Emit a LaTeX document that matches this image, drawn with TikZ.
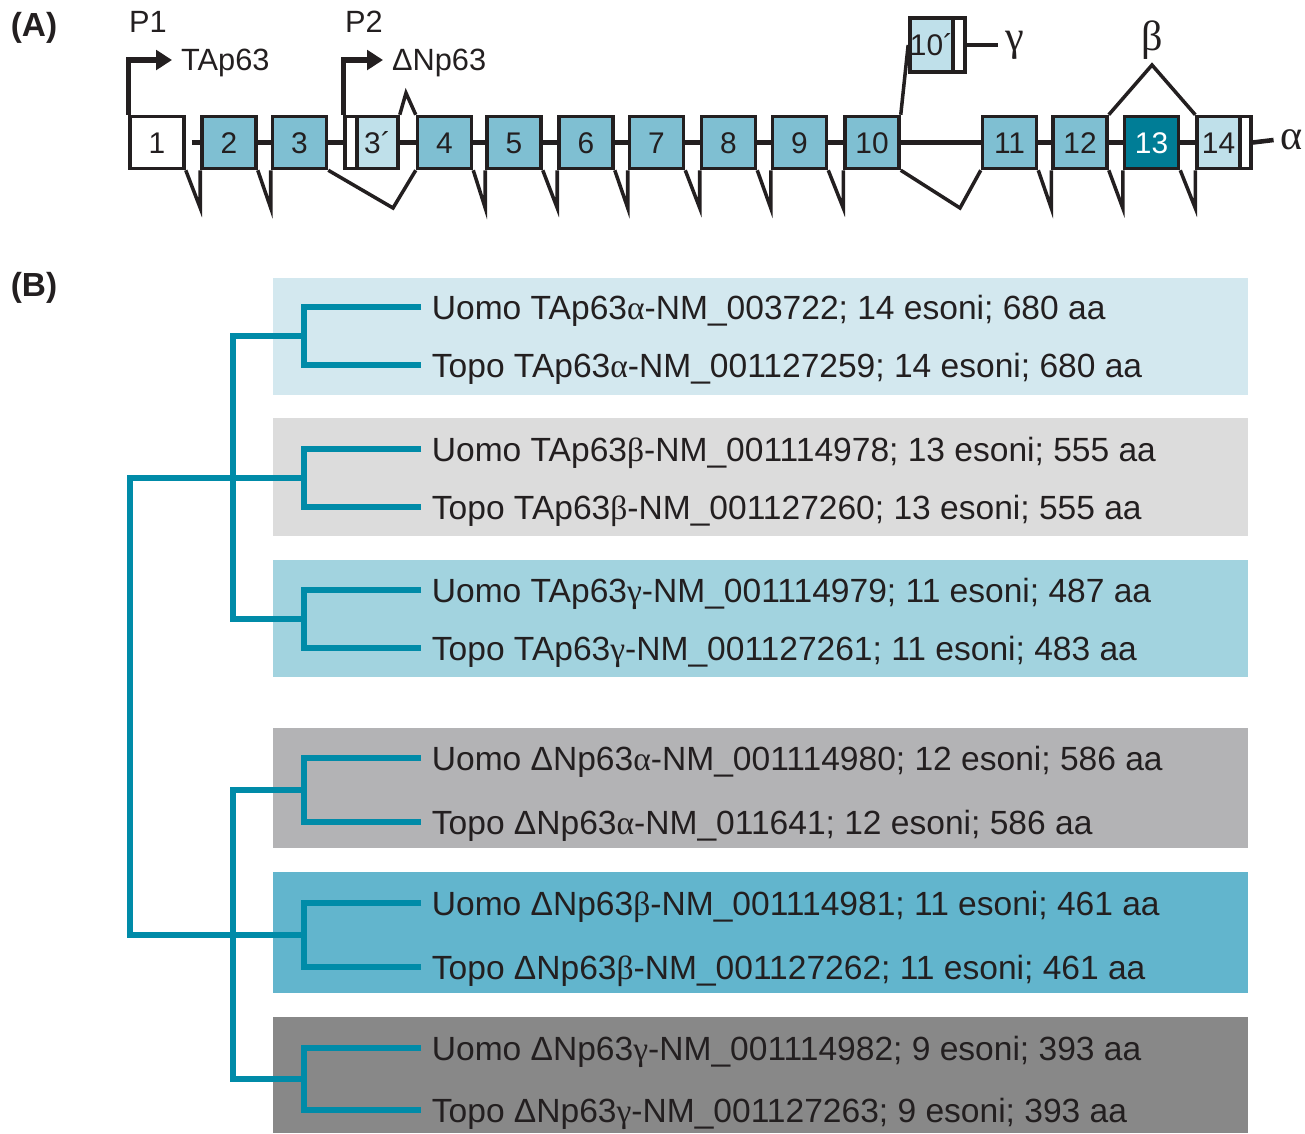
\documentclass[tikz,border=0pt]{standalone}
\usepackage{fontspec}
\setmainfont{Liberation Sans}
\newfontfamily\grk{Liberation Serif}
\usetikzlibrary{arrows.meta,calc,positioning}
\definecolor{Ink}{HTML}{231F20}
\definecolor{ExonMid}{HTML}{7FBFD2}
\definecolor{ExonPale}{HTML}{BFE0EA}
\definecolor{ExonDeep}{HTML}{007D96}
\definecolor{Branch}{HTML}{008BA8}
\definecolor{RowA}{HTML}{D3E8EF}
\definecolor{RowB}{HTML}{DCDCDC}
\definecolor{RowC}{HTML}{A2D3DF}
\definecolor{RowD}{HTML}{B3B3B5}
\definecolor{RowE}{HTML}{62B5CD}
\definecolor{RowF}{HTML}{888888}
\newcommand{\ga}{{\grk α}}
\newcommand{\gb}{{\grk β}}
\newcommand{\gc}{{\grk γ}}

\begin{document}
\begin{tikzpicture}[x=0.02cm,y=-0.02cm,
  exon/.style={draw=Ink,line width=2pt,fill=ExonMid,minimum width=1.08cm,minimum height=1.04cm,inner sep=0pt,font=\fontsize{17}{17}\selectfont,text=Ink,text height=12pt,text depth=0pt},
  pale/.style={exon,fill=ExonPale,minimum width=0.84cm},
  tail/.style={exon,fill=white,minimum width=0.23cm},
  intron/.style={draw=Ink,line width=2.6pt},
  splice/.style={draw=Ink,line width=2pt},
  prom/.style={draw=Ink,line width=3pt,-{Triangle[length=9pt,width=11pt]}},
  lab/.style={font=\fontsize{17.5}{18}\selectfont,text=Ink,inner sep=5pt,text height=12.5pt,text depth=0pt},
  greek/.style={font=\grk\fontsize{24}{24}\selectfont,text=Ink,inner sep=4pt},
  panel/.style={font=\bfseries\fontsize{19}{19}\selectfont,text=Ink},
  iso/.style={anchor=west,font=\fontsize{19.1}{20}\selectfont,text=Ink,inner sep=6pt,text height=14pt,text depth=0pt},
  tree/.style={draw=Branch,line width=3.3pt}
]
\useasboundingbox (0,0) rectangle (1305,1133);

% (A) gene structure
\node[panel] (pa) at (34,28) {(A)};
\node[exon,fill=white] (e1) at (157,142.5) {1};
\foreach \n/\x in {2/229,3/299.5,4/444.5,5/514,6/586,7/656.5,8/728.5,9/799.5,10/872,11/1009.5,12/1080}
  \node[exon] (e\n) at (\x,142.5) {\n};
\node[exon,fill=ExonDeep,text=white] (e13) at (1151.5,142.5) {13};
\node[tail] (u3) at (351,142.5) {};
\node[pale,minimum width=0.82cm] (e3p) at (377.5,142.5) {3´};
\node[pale,minimum width=0.86cm] (e14) at (1218.5,142.5) {14};
\node[tail,minimum width=0.22cm] (u14) at (1245.5,142.5) {};
\node[pale,minimum width=0.86cm,minimum height=1.08cm] (e10p) at (931.5,45) {10´};
\node[tail,minimum height=1.08cm] (u10p) at (959,45) {};

\draw[intron] ($(e1.east)+(6,0)$) -- (e2.west);
\draw[intron] (e2.east) -- (e3.west);
\draw[intron] (e3.east) -- (u3.west);
\draw[intron] (e3p.east) -- (e4.west);
\foreach \a/\b in {4/5,5/6,6/7,7/8,8/9,9/10,10/11,11/12,12/13,13/14}
  \draw[intron] (e\a.east) -- (e\b.west);
\node[greek] (alpha) at (1292,140) {α};
\draw[intron] (u14.east) -- (alpha.west);
\node[greek] (gamma) at (1015,45) {γ};
\draw[intron] (u10p.east) -- (gamma.west);

% splicing
\coordinate (low) at (0,208);
\foreach \a/\b in {1/2,2/3,4/5,5/6,6/7,7/8,8/9,9/10,11/12,12/13,13/14}
  \draw[splice] (e\a.south east) -- (e\b.south west |- low) -- (e\b.south west);
\coordinate (v34) at (393,208);
\draw[splice] (e3.south east) -- (v34) -- (e4.south west);
\coordinate (v1011) at (960,208);
\draw[splice] (e10.south east) -- (v1011) -- (e11.south west);
\coordinate (up34) at (406,93);
\draw[splice] (e3p.north east) -- (up34) -- (e4.north west);
\draw[splice] (e10.north east) -- (e10p.west);
\coordinate (upb) at (1152,65);
\draw[splice] (e12.north east) -- (upb) -- (e14.north west);
\node[greek] (beta) at (1152,40) {β};

% promoters
\node[lab] (p1) at (148,22) {P1};
\node[lab,anchor=west] (tap) at (172,60) {TAp63};
\draw[prom] (e1.north west) |- (tap.west);
\node[lab] (p2) at (364,22) {P2};
\node[lab,anchor=west] (dnp) at (383,60) {ΔNp63};
\draw[prom] (u3.north west) |- (dnp.west);

% (B) isoforms
\node[panel] (pb) at (34,288) {(B)};
\foreach \c/\t/\b in {RowA/278/395,RowB/418/536,RowC/560/677,RowD/728/848,RowE/872/993,RowF/1017/1133}
  \fill[\c] (273,\t) rectangle (1248,\b);

\node[iso] (h1) at (421,307) {Uomo TAp63\ga-NM\_003722; 14 esoni; 680 aa};
\node[iso] (m1) at (421,365) {Topo TAp63\ga-NM\_001127259; 14 esoni; 680 aa};
\node[iso] (h2) at (421,449) {Uomo TAp63\gb-NM\_001114978; 13 esoni; 555 aa};
\node[iso] (m2) at (421,507) {Topo TAp63\gb-NM\_001127260; 13 esoni; 555 aa};
\node[iso] (h3) at (421,590) {Uomo TAp63\gc-NM\_001114979; 11 esoni; 487 aa};
\node[iso] (m3) at (421,648) {Topo TAp63\gc-NM\_001127261; 11 esoni; 483 aa};
\node[iso] (h4) at (421,758) {Uomo ΔNp63\ga-NM\_001114980; 12 esoni; 586 aa};
\node[iso] (m4) at (421,822) {Topo ΔNp63\ga-NM\_011641; 12 esoni; 586 aa};
\node[iso] (h5) at (421,903) {Uomo ΔNp63\gb-NM\_001114981; 11 esoni; 461 aa};
\node[iso] (m5) at (421,967) {Topo ΔNp63\gb-NM\_001127262; 11 esoni; 461 aa};
\node[iso] (h6) at (421,1048) {Uomo ΔNp63\gc-NM\_001114982; 9 esoni; 393 aa};
\node[iso] (m6) at (421,1110) {Topo ΔNp63\gc-NM\_001127263; 9 esoni; 393 aa};

% tree
\foreach \i/\y in {1/336,2/478,3/619,4/790,5/935,6/1079}
  \coordinate (j\i) at (304,\y);
\foreach \i in {1,...,6}
  \draw[tree] (h\i.west) -| (j\i) |- (m\i.west);
\coordinate (ta) at (233,478);
\coordinate (dn) at (233,935);
\coordinate (root) at (130,700);
\draw[tree] (j1) -| (ta) |- (j3);
\draw[tree] (j4) -| (dn) |- (j6);
\draw[tree] (j2) -| (root) |- (j5);
\end{tikzpicture}
\end{document}
